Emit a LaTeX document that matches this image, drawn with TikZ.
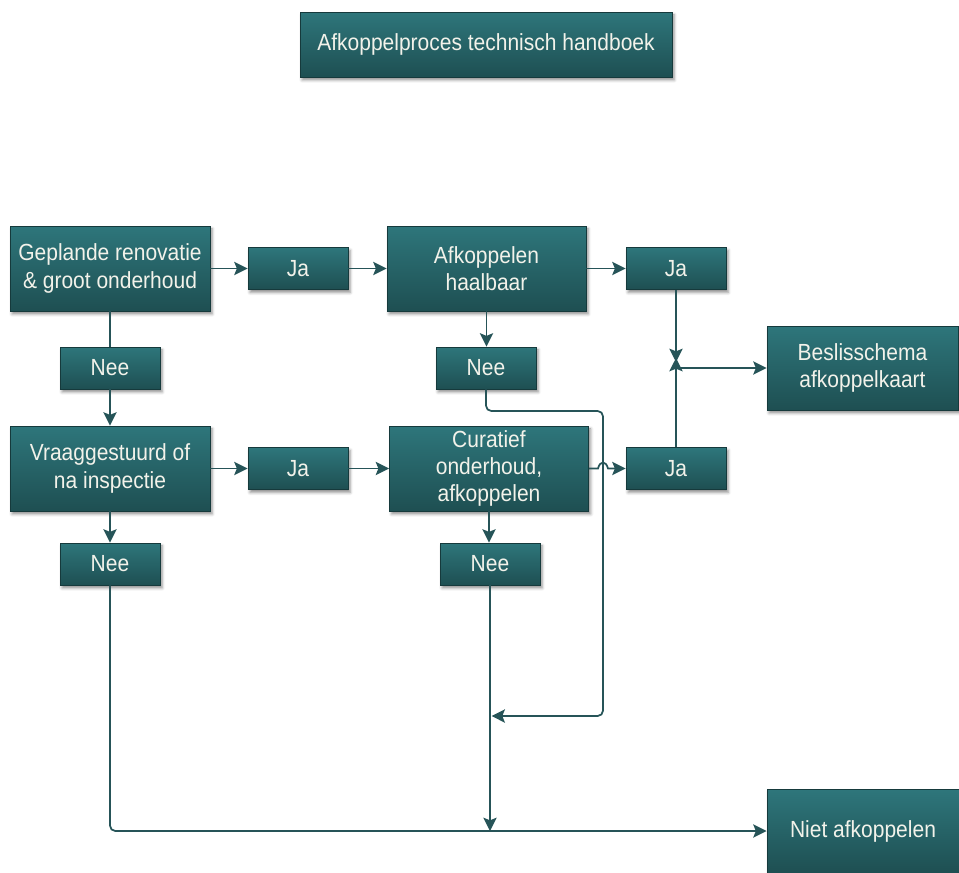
\documentclass[tikz,border=0pt]{standalone}
\usepackage{fontspec}
\setmainfont{Liberation Sans}[FakeStretch=0.9]
\usetikzlibrary{arrows.meta,shadows.blur,calc}
\definecolor{boxtop}{RGB}{46,118,123}
\definecolor{boxbot}{RGB}{30,79,82}
\definecolor{boxedge}{RGB}{22,58,60}
\definecolor{boxtext}{RGB}{242,242,234}
\definecolor{linec}{RGB}{38,84,88}
\begin{document}
\begin{tikzpicture}[x=0.75pt,y=-0.75pt,
  box/.style={draw=boxedge, line width=0.7pt, top color=boxtop, bottom color=boxbot,
    text=boxtext, align=center, inner sep=0pt,
    font=\fontsize{17.5}{20.5}\selectfont,
    blur shadow={shadow xshift=1.6pt, shadow yshift=-2.2pt, shadow blur radius=2.2pt, shadow opacity=45}},
  bigbox/.style={box, minimum width=150pt, minimum height=63.75pt},
  smallbox/.style={box, minimum width=75pt, minimum height=31.5pt},
  conn/.style={draw=linec, line width=1.3pt},
  arr/.style={conn, -{Stealth[length=10pt,width=10pt,inset=2pt]}}]
\useasboundingbox (0,0) rectangle (959,872);

\node[box, minimum width=279pt, minimum height=48.75pt] (title) at (486,44.5) {Afkoppelproces technisch handboek};

\node[bigbox] (gep) at (110,268.5) {Geplande renovatie\\\& groot onderhoud};
\node[smallbox] (ja1) at (298,268.5) {Ja};
\node[bigbox, minimum width=149.25pt] (afk) at (486.5,268.5) {Afkoppelen\\haalbaar};
\node[smallbox] (ja2) at (676,268.5) {Ja};

\node[smallbox] (nee1) at (110,368) {Nee};
\node[smallbox] (nee2) at (486,368) {Nee};
\node[box, minimum width=143.25pt, minimum height=63pt] (besl) at (862.5,368) {Beslisschema\\afkoppelkaart};

\node[bigbox] (vraag) at (110,468.5) {Vraaggestuurd of\\na inspectie};
\node[smallbox] (ja3) at (298,468.5) {Ja};
\node[bigbox, minimum width=149.25pt] (cur) at (489,468.5) {Curatief\\onderhoud,\\afkoppelen};
\node[smallbox] (ja4) at (676,468.5) {Ja};

\node[smallbox] (nee3) at (110,564) {Nee};
\node[smallbox] (nee4) at (490,564) {Nee};

\node[box, minimum width=144pt, minimum height=63pt] (niet) at (863,831) {Niet afkoppelen};

\coordinate (mt) at (676,362);
\coordinate (mb) at (676,358);
\coordinate (r1) at (603,411);
\coordinate (r2) at (603,716);
\coordinate (h1) at (598,468.5);
\coordinate (h2) at (608,468.5);

\draw[arr] (gep.east) -- (ja1.west);
\draw[arr] (ja1.east) -- (afk.west);
\draw[arr] (afk.east) -- (ja2.west);
\draw[conn] (gep.south) -- (nee1.north);
\draw[arr] (nee1.south) -- (vraag.north);
\draw[arr] (afk.south) -- (afk.south |- nee2.north);
\draw[arr, rounded corners=4pt] (nee2.south) |- (r1) |- ([xshift=1.2pt]nee4.south |- r2);

\draw[arr] (vraag.east) -- (ja3.west);
\draw[arr] (ja3.east) -- (cur.west);
\draw[arr] (cur.east) -- (h1) .. controls ($(h1)+(2,-8)$) and ($(h2)+(-2,-8)$) .. (h2) -- (ja4.west);

\draw[arr] (cur.south) -- (cur.south |- nee4.north);
\draw[arr] (vraag.south) -- (nee3.north);
\draw[arr, rounded corners=4pt] (nee3.south) |- (niet.west);
\draw[arr] (nee4.south) -- (nee4.south |- niet.west);

\draw[arr] (ja2.south) -- (mt);
\draw[arr] (ja4.north) -- (mb);
\draw[arr] (ja2.south |- besl.west) -- (besl.west);
\end{tikzpicture}
\end{document}
